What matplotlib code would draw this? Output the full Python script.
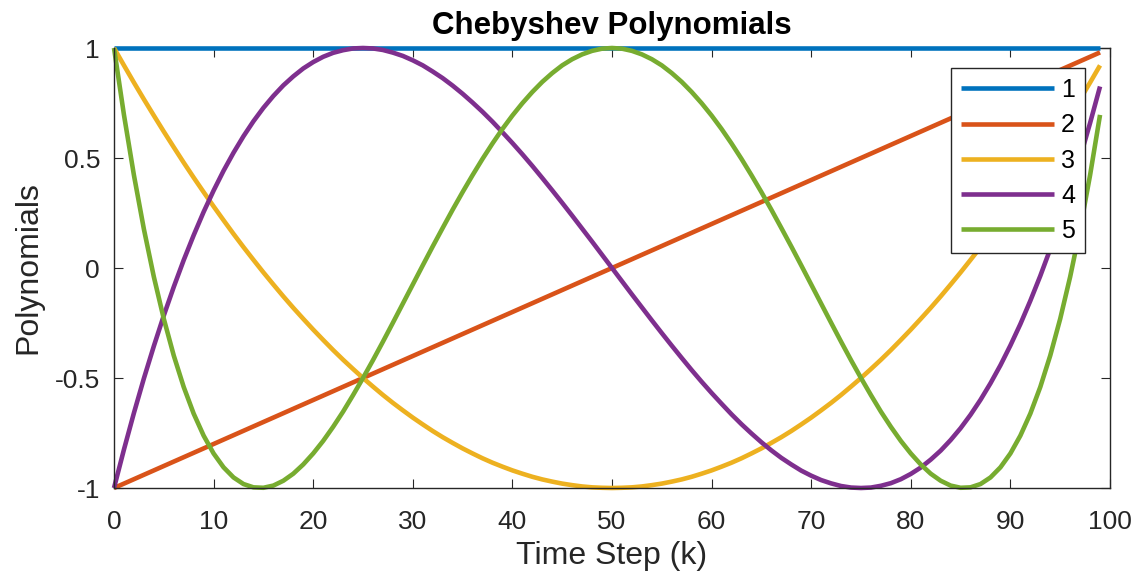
import matplotlib
matplotlib.use("Agg")
import matplotlib.pyplot as plt

plt.rcParams['font.family'] = ['Liberation Sans', 'DejaVu Sans']

# time steps and Chebyshev polynomial values T0..T4 at each step
steps = list(range(100))

t0 = [1.0] * 100

t1 = [-1.00, -0.98, -0.96, -0.94, -0.92, -0.90, -0.88, -0.86, -0.84, -0.82,
      -0.80, -0.78, -0.76, -0.74, -0.72, -0.70, -0.68, -0.66, -0.64, -0.62,
      -0.60, -0.58, -0.56, -0.54, -0.52, -0.50, -0.48, -0.46, -0.44, -0.42,
      -0.40, -0.38, -0.36, -0.34, -0.32, -0.30, -0.28, -0.26, -0.24, -0.22,
      -0.20, -0.18, -0.16, -0.14, -0.12, -0.10, -0.08, -0.06, -0.04, -0.02,
      0.00, 0.02, 0.04, 0.06, 0.08, 0.10, 0.12, 0.14, 0.16, 0.18,
      0.20, 0.22, 0.24, 0.26, 0.28, 0.30, 0.32, 0.34, 0.36, 0.38,
      0.40, 0.42, 0.44, 0.46, 0.48, 0.50, 0.52, 0.54, 0.56, 0.58,
      0.60, 0.62, 0.64, 0.66, 0.68, 0.70, 0.72, 0.74, 0.76, 0.78,
      0.80, 0.82, 0.84, 0.86, 0.88, 0.90, 0.92, 0.94, 0.96, 0.98]

t2 = [1.000, 0.921, 0.843, 0.767, 0.693, 0.620, 0.549, 0.479, 0.411, 0.345,
      0.280, 0.217, 0.155, 0.095, 0.037, -0.020, -0.075, -0.129, -0.181, -0.231,
      -0.280, -0.327, -0.373, -0.417, -0.459, -0.500, -0.539, -0.577, -0.613, -0.647,
      -0.680, -0.711, -0.741, -0.769, -0.795, -0.820, -0.843, -0.865, -0.885, -0.903,
      -0.920, -0.935, -0.949, -0.961, -0.971, -0.980, -0.987, -0.993, -0.997, -0.999,
      -1.000, -0.999, -0.997, -0.993, -0.987, -0.980, -0.971, -0.961, -0.949, -0.935,
      -0.920, -0.903, -0.885, -0.865, -0.843, -0.820, -0.795, -0.769, -0.741, -0.711,
      -0.680, -0.647, -0.613, -0.577, -0.539, -0.500, -0.459, -0.417, -0.373, -0.327,
      -0.280, -0.231, -0.181, -0.129, -0.075, -0.020, 0.037, 0.095, 0.155, 0.217,
      0.280, 0.345, 0.411, 0.479, 0.549, 0.620, 0.693, 0.767, 0.843, 0.921]

t3 = [-1.000, -0.825, -0.659, -0.502, -0.355, -0.216, -0.086, 0.036, 0.149, 0.255,
      0.352, 0.442, 0.524, 0.599, 0.667, 0.728, 0.782, 0.830, 0.871, 0.907,
      0.936, 0.960, 0.978, 0.990, 0.998, 1.000, 0.998, 0.991, 0.979, 0.964,
      0.944, 0.921, 0.893, 0.863, 0.829, 0.792, 0.752, 0.710, 0.665, 0.617,
      0.568, 0.517, 0.464, 0.409, 0.353, 0.296, 0.238, 0.179, 0.120, 0.060,
      0.000, -0.060, -0.120, -0.179, -0.238, -0.296, -0.353, -0.409, -0.464, -0.517,
      -0.568, -0.617, -0.665, -0.710, -0.752, -0.792, -0.829, -0.863, -0.893, -0.921,
      -0.944, -0.964, -0.979, -0.991, -0.998, -1.000, -0.998, -0.990, -0.978, -0.960,
      -0.936, -0.907, -0.871, -0.830, -0.782, -0.728, -0.667, -0.599, -0.524, -0.442,
      -0.352, -0.255, -0.149, -0.036, 0.086, 0.216, 0.355, 0.502, 0.659, 0.825]

t4 = [1.000, 0.696, 0.422, 0.177, -0.040, -0.231, -0.398, -0.541, -0.662, -0.762,
      -0.843, -0.906, -0.952, -0.982, -0.997, -0.999, -0.989, -0.967, -0.935, -0.893,
      -0.843, -0.786, -0.722, -0.653, -0.578, -0.500, -0.419, -0.335, -0.249, -0.162,
      -0.075, 0.012, 0.098, 0.182, 0.265, 0.345, 0.422, 0.496, 0.566, 0.632,
      0.693, 0.749, 0.800, 0.846, 0.886, 0.921, 0.949, 0.971, 0.987, 0.997,
      1.000, 0.997, 0.987, 0.971, 0.949, 0.921, 0.886, 0.846, 0.800, 0.749,
      0.693, 0.632, 0.566, 0.496, 0.422, 0.345, 0.265, 0.182, 0.098, 0.012,
      -0.075, -0.162, -0.249, -0.335, -0.419, -0.500, -0.578, -0.653, -0.722, -0.786,
      -0.843, -0.893, -0.935, -0.967, -0.989, -0.999, -0.997, -0.982, -0.952, -0.906,
      -0.843, -0.762, -0.662, -0.541, -0.398, -0.231, -0.040, 0.177, 0.422, 0.696]

series = [t0, t1, t2, t3, t4]
labels = ["1", "2", "3", "4", "5"]
colors = ["#0072BD", "#D95319", "#EDB120", "#7E2F8E", "#77AC30"]

xticks = [0, 10, 20, 30, 40, 50, 60, 70, 80, 90, 100]
yticks = [-1, -0.5, 0, 0.5, 1]
ytick_labels = ["-1", "-0.5", "0", "0.5", "1"]

axis_color = "#262626"

fig = plt.figure(figsize=(11.37, 5.76), dpi=100)
ax = fig.add_axes([114 / 1137, 1 - 488 / 576, 996 / 1137, 440 / 576])

for vals, lab, col in zip(series, labels, colors):
    ax.plot(steps, vals, color=col, linewidth=3.3, label=lab, clip_on=False,
            solid_capstyle="butt")

ax.set_xlim(0, 100)
ax.set_ylim(-1, 1)
ax.set_xticks(xticks)
ax.set_yticks(yticks)
ax.set_yticklabels(ytick_labels)

ax.tick_params(direction="in", length=6.5, width=0.8, colors=axis_color,
               labelsize=19, top=True, right=True)
ax.tick_params(axis="x", pad=16)
ax.tick_params(axis="y", pad=10)
for side in ["left", "right", "top", "bottom"]:
    ax.spines[side].set_color(axis_color)
    ax.spines[side].set_linewidth(1.0)
ax.spines["top"].set_zorder(0)

ax.set_xlabel("Time Step (k)", fontsize=23, color=axis_color, labelpad=5)
ax.set_ylabel("Polynomials", fontsize=23, color=axis_color, labelpad=8)
ax.set_title("Chebyshev Polynomials", fontsize=22.5, fontweight="bold", pad=10)

leg = ax.legend(loc="upper right", bbox_to_anchor=(0.975, 0.9545),
                borderaxespad=0, fontsize=18, fancybox=False, framealpha=1,
                edgecolor=axis_color, handlelength=3.7, handletextpad=0.3,
                labelspacing=0.45, borderpad=0.4)
leg.get_frame().set_linewidth(1.0)

fig.savefig("out.png", dpi=100)
